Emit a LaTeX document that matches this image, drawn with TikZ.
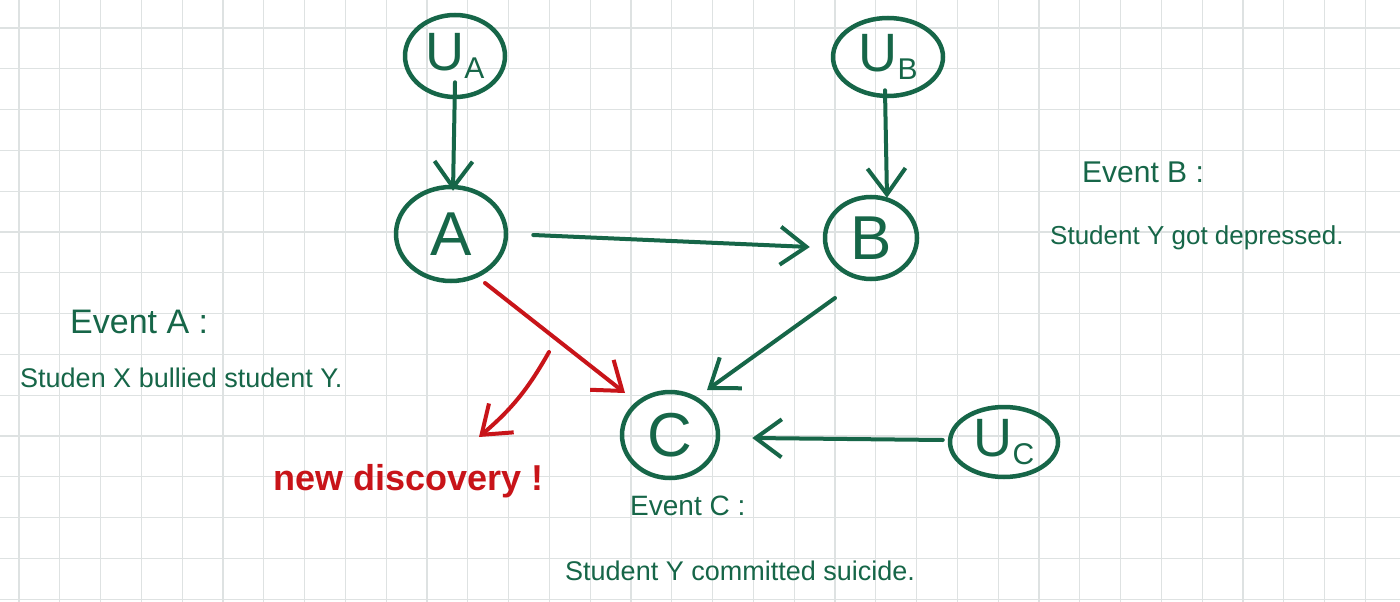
\documentclass[tikz,border=0pt]{standalone}
\usepackage{fontspec}
\setmainfont{Liberation Sans}
\usetikzlibrary{shapes.geometric,arrows.meta,calc}
\definecolor{ink}{RGB}{22,102,72}
\definecolor{redink}{RGB}{200,20,25}
\definecolor{gridc}{RGB}{222,226,226}
\newcommand\ulab[1]{{\fontsize{54}{54}\selectfont U}\raisebox{-8pt}{\fontsize{30}{30}\selectfont #1}}
\begin{document}
\begin{tikzpicture}[x=1pt,y=-1pt,
  ell/.style={ellipse,draw=ink,line width=4.5pt,inner sep=0pt,text=ink},
  big/.style={font=\fontsize{62}{62}\selectfont},
  garr/.style={draw=ink,line width=4pt,line cap=round,-{Straight Barb[length=26pt,width=38pt]}},
  rarr/.style={draw=redink,line width=4pt,line cap=round,-{Straight Barb[length=26pt,width=38pt]}},
  note/.style={text=ink,anchor=base west,inner sep=0pt}
]
\fill[white] (0,0) rectangle (1400,602);
\useasboundingbox (0,0) rectangle (1400,602);
\foreach \i in {0,...,33} \draw[gridc,line width=1.3pt] ({19+40.8*\i},0) -- ({19+40.8*\i},602);
\foreach \j in {0,...,14} \draw[gridc,line width=1.3pt] (0,{28+40.8*\j}) -- (1400,{28+40.8*\j});

% nodes
\node[ell,minimum width=100pt,minimum height=82pt] (UA) at (455,56) {\ulab{A}};
\node[ell,minimum width=110pt,minimum height=78pt] (UB) at (888,57) {\ulab{B}};
\node[ell,big,minimum width=110pt,minimum height=94pt] (A) at (451,234) {A};
\node[ell,big,minimum width=92pt,minimum height=82pt] (B) at (871,238) {B};
\node[ell,big,minimum width=96pt,minimum height=86pt] (C) at (670,435) {C};
\node[ell,minimum width=108pt,minimum height=70pt] (UC) at (1004,442) {\ulab{C}};

% connectors
\draw[garr] ($(UA.south)+(0,-17)$) -- ($(A.north)+(2,6)$);
\draw[garr] ($(UB.south)+(-3,-8)$) -- ($(B.north)+(16,3)$);
\draw[garr] ($(A.east)+(25,1)$) -- ($(B.west)+(-13,9)$);
\draw[rarr] ($(A)+(34,49)$) -- ($(C)+(-45,-42)$);
\draw[garr] ($(B)+(-36,60)$) -- ($(C)+(37,-45)$);
\draw[garr] ($(UC.west)+(-5,-2)$) -- ($(C.east)+(32,3)$);
\coordinate (d0) at (549,352);
\coordinate (d1) at (479,437);
\draw[rarr] (d0) to[bend left=10] (d1);

% texts
\node[note,font=\fontsize{34}{40}\selectfont] (evA) at (70,333) {Event A :};
\node[note,font=\fontsize{27}{32}\selectfont] (txA) at (20,387) {Studen X bullied student Y.};
\node[note,font=\fontsize{30}{36}\selectfont] (evB) at (1082,182) {Event B :};
\node[note,font=\fontsize{26}{32}\selectfont] (txB) at (1050,244) {Student Y got depressed.};
\node[note,font=\fontsize{28}{34}\selectfont] (evC) at (630,515) {Event C :};
\node[note,font=\fontsize{27}{32}\selectfont] (txC) at (565,580) {Student Y committed suicide.};
\node[note,text=redink,font=\fontsize{36}{42}\selectfont\bfseries] (nd) at (273,490) {new discovery !};
\end{tikzpicture}
\end{document}
